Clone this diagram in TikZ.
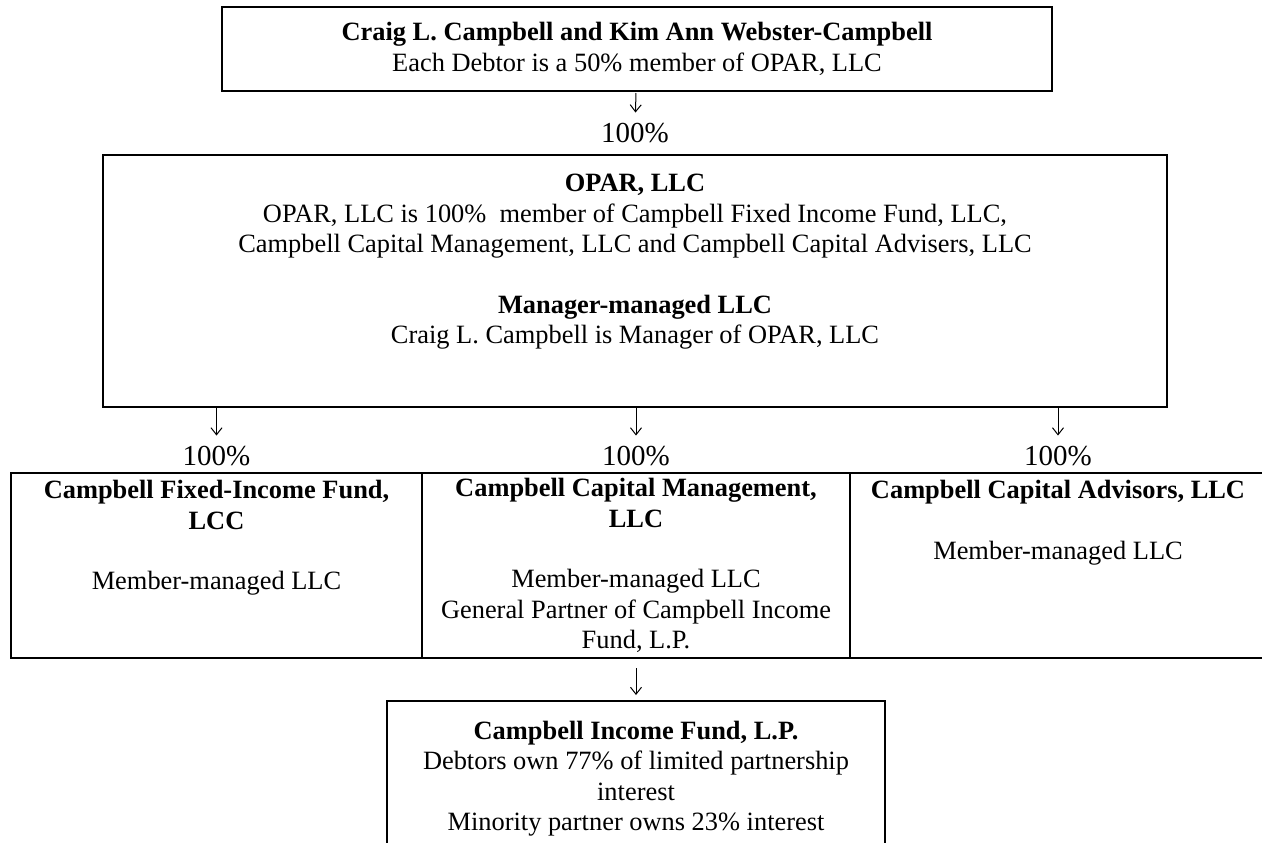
\documentclass[tikz,border=0pt]{standalone}
\usepackage{fontspec}
\setmainfont{Liberation Serif}
\usetikzlibrary{positioning,arrows.meta}

\begin{document}
\begin{tikzpicture}[x=0.5pt, y=-0.5pt,
  box/.style = {draw, line width=0.8pt, outer sep=0pt, align=center,
    font=\fontsize{13.2}{15.2}\selectfont},
  cell/.style = {box, minimum height=92.5pt, inner xsep=2pt, inner ysep=1pt},
  pct/.style = {inner sep=0pt, font=\fontsize{14.5}{16}\selectfont},
  arr/.style = {line width=0.5pt, -{Straight Barb[length=3.5pt,width=5.5pt]}}]
\useasboundingbox (0,0) rectangle (1262,842);

\node[box, minimum width=415pt, minimum height=42pt] (top) at (637,49)
  {\textbf{Craig L. Campbell and Kim Ann Webster-Campbell}\\
   Each Debtor is a 50\% member of OPAR, LLC};
\node[box, minimum width=532pt, minimum height=126pt] (opar) at (635,281)
  {\textbf{OPAR, LLC}\\
   OPAR, LLC is 100\%~ member of Campbell Fixed Income Fund, LLC,\\
   Campbell Capital Management, LLC and Campbell Capital Advisers, LLC\\
   ~\\
   \textbf{Manager-managed LLC}\\
   Craig L. Campbell is Manager of OPAR, LLC\\[6.8pt] ~};
\node[pct] (p0) [above=6pt of opar] {100\%};

\node[cell, minimum width=205.5pt, anchor=west] (c1) at (11,565.5)
  {\textbf{Campbell Fixed-Income Fund,}\\ \textbf{LCC}\\ ~\\
   Member-managed LLC\\ ~\\ ~};
\node[cell, minimum width=214pt] (c2) [right=0pt of c1]
  {\textbf{Campbell Capital Management,}\\ \textbf{LLC}\\ ~\\
   Member-managed LLC\\ General Partner of Campbell Income\\ Fund, L.P.};
\node[cell, minimum width=208pt] (c3) [right=0pt of c2]
  {\textbf{Campbell Capital Advisors, LLC}\\ ~\\
   Member-managed LLC\\ ~\\ ~\\ ~};
\node[pct] (p1) [above=3.5pt of c1] {100\%};
\node[pct] (p2) [above=3.5pt of c2] {100\%};
\node[pct] (p3) [above=3.5pt of c3] {100\%};
\node[box, minimum width=249pt, inner ysep=10pt] (bot) [below=21.5pt of c2]
  {\textbf{Campbell Income Fund, L.P.}\\
   Debtors own 77\% of limited partnership\\ interest\\
   Minority partner owns 23\% interest\\ ~};

\draw[arr, shorten <=1pt, shorten >=5pt] (top) -- (p0);
\draw[arr, shorten <=0.5pt, shorten >=5pt] (opar.south -| p1) -- (p1);
\draw[arr, shorten <=0.5pt, shorten >=5pt] (opar.south -| p2) -- (p2);
\draw[arr, shorten <=0.5pt, shorten >=5pt] (opar.south -| p3) -- (p3);
\draw[arr, shorten <=5pt, shorten >=3pt] (c2) -- (bot);
\end{tikzpicture}
\end{document}
